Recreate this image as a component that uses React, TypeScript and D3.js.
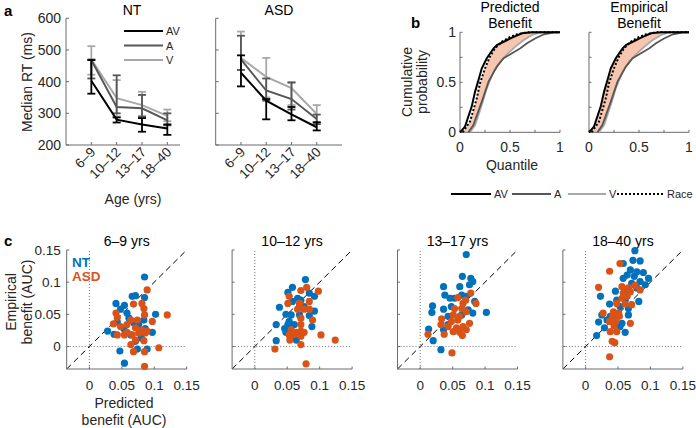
import React from 'react';
import * as d3 from 'd3';

const FONT = "'Liberation Sans', Arial, Helvetica, sans-serif";
const TXT = '#262626';
const AXC = '#6b6b6b';
const C_AV = '#000000';
const C_A = '#575757';
const C_V = '#a8a8a8';
const BLUE = '#0072BD';
const ORANGE = '#D95319';
const FILL = '#F7C6AE';

// ---------- Panel a data ----------
const AGE_GROUPS = ['6–9', '10–12', '13–17', '18–40'];
const RT_TICKS = [200, 300, 400, 500, 600];

const NT_AV_MEAN = [403, 280, 265, 252];
const NT_AV_LO = [362, 271, 242, 232];
const NT_AV_HI = [468, 287, 285, 265];
const NT_A_MEAN = [468, 320, 316, 278];
const NT_A_LO = [410, 300, 290, 262];
const NT_A_HI = [470, 420, 358, 300];
const NT_V_MEAN = [470, 348, 326, 292];
const NT_V_LO = [422, 290, 290, 275];
const NT_V_HI = [512, 405, 368, 312];

const ASD_AV_MEAN = [428, 340, 297, 256];
const ASD_AV_LO = [385, 281, 278, 246];
const ASD_AV_HI = [483, 345, 320, 272];
const ASD_A_MEAN = [470, 372, 345, 282];
const ASD_A_LO = [437, 340, 312, 266];
const ASD_A_HI = [545, 410, 398, 296];
const ASD_V_MEAN = [475, 415, 380, 298];
const ASD_V_LO = [437, 350, 326, 270];
const ASD_V_HI = [558, 475, 396, 326];

// ---------- Panel b data (quantile, cumulative probability) ----------
const CDF_AV = [[0, 0], [0.05, 0.057], [0.117, 0.257], [0.151, 0.407], [0.185, 0.523], [0.218, 0.64], [0.268, 0.74], [0.336, 0.84], [0.369, 0.873], [0.453, 0.913], [0.52, 0.947], [0.62, 0.99], [0.72, 1], [1, 1]];
const CDF_RACE = [[0.027, 0], [0.1, 0.107], [0.168, 0.34], [0.2, 0.49], [0.25, 0.64], [0.3, 0.757], [0.35, 0.84], [0.42, 0.907], [0.487, 0.947], [0.57, 0.98], [0.67, 1], [1, 1]];
const CDF_A = [[0.084, 0], [0.134, 0.073], [0.218, 0.307], [0.285, 0.507], [0.369, 0.657], [0.436, 0.74], [0.52, 0.79], [0.604, 0.84], [0.67, 0.89], [0.755, 0.94], [0.84, 0.98], [0.94, 1], [1, 1]];
const CDF_V = [[0.1, 0], [0.151, 0.073], [0.218, 0.273], [0.268, 0.44], [0.336, 0.607], [0.403, 0.707], [0.47, 0.78], [0.554, 0.857], [0.638, 0.923], [0.72, 0.973], [0.805, 1], [1, 1]];
const B_TICKS = [0, 0.25, 0.5, 0.75, 1];
const B_LABELS = [0, 0.5, 1];

// ---------- Panel c data (predicted, empirical) ----------
const C_TITLES = ['6–9 yrs', '10–12 yrs', '13–17 yrs', '18–40 yrs'];
const C_TICKS = [0, 0.05, 0.1, 0.15];

const C1_NT = [[0.085, 0.108], [0.066, 0.078], [0.071, 0.079], [0.085, 0.076], [0.041, 0.067], [0.054, 0.064], [0.048, 0.058], [0.058, 0.052], [0.102, 0.050], [0.043, 0.038], [0.028, 0.024], [0.038, 0.019], [0.061, 0.044], [0.076, 0.034], [0.086, 0.028], [0.097, 0.022], [0.047, -0.007], [0.054, -0.026], [0.074, -0.004], [0.089, -0.004], [0.071, 0.008], [0.080, 0.013], [0.064, 0.018], [0.053, 0.028], [0.084, 0.041], [0.069, 0.036]];
const C1_ASD = [[0.089, 0.088], [0.081, 0.067], [0.068, 0.066], [0.084, 0.059], [0.120, 0.049], [0.041, 0.052], [0.043, 0.045], [0.085, 0.049], [0.074, 0.041], [0.064, 0.041], [0.097, 0.039], [0.037, 0.035], [0.058, 0.034], [0.048, 0.031], [0.071, 0.029], [0.081, 0.026], [0.089, 0.024], [0.054, 0.018], [0.066, 0.018], [0.076, 0.021], [0.086, 0.021], [0.043, 0.018], [0.058, 0.022], [0.071, 0.010], [0.084, 0.009], [0.064, 0.003], [0.107, -0.002], [0.068, -0.008], [0.085, -0.008], [0.085, -0.031], [0.079, 0.023]];

const C2_NT = [[0.078, 0.104], [0.058, 0.092], [0.051, 0.084], [0.066, 0.075], [0.084, 0.083], [0.092, 0.078], [0.038, 0.061], [0.058, 0.070], [0.071, 0.072], [0.048, 0.050], [0.056, 0.049], [0.069, 0.049], [0.084, 0.048], [0.092, 0.055], [0.033, 0.034], [0.046, 0.028], [0.051, 0.034], [0.061, 0.034], [0.088, 0.031], [0.048, 0.022], [0.056, 0.018], [0.033, 0.009], [0.064, 0.010], [0.076, 0.062], [0.053, 0.039]];
const C2_ASD = [[0.080, 0.092], [0.098, 0.086], [0.071, 0.087], [0.053, 0.078], [0.084, 0.070], [0.051, 0.067], [0.069, 0.067], [0.066, 0.058], [0.076, 0.058], [0.084, 0.058], [0.071, 0.044], [0.089, 0.041], [0.071, 0.034], [0.056, 0.026], [0.064, 0.022], [0.071, 0.024], [0.076, 0.022], [0.053, 0.018], [0.061, 0.019], [0.071, 0.016], [0.054, 0.010], [0.102, 0.018], [0.124, 0.010], [0.031, -0.004], [0.071, 0.003], [0.079, -0.027]];

const C3_NT = [[0.071, 0.143], [0.065, 0.109], [0.078, 0.106], [0.081, 0.101], [0.036, 0.093], [0.061, 0.093], [0.076, 0.096], [0.038, 0.080], [0.064, 0.080], [0.046, 0.075], [0.053, 0.075], [0.071, 0.078], [0.084, 0.070], [0.019, 0.063], [0.018, 0.053], [0.036, 0.058], [0.048, 0.062], [0.102, 0.053], [0.081, 0.052], [0.064, 0.049], [0.043, 0.047], [0.013, 0.027], [0.036, 0.026], [0.020, 0.009], [0.032, -0.005], [0.043, 0.034], [0.074, 0.057]];
const C3_ASD = [[0.078, 0.083], [0.058, 0.076], [0.070, 0.072], [0.066, 0.067], [0.086, 0.067], [0.053, 0.059], [0.064, 0.059], [0.071, 0.054], [0.051, 0.049], [0.061, 0.047], [0.033, 0.043], [0.032, 0.034], [0.048, 0.039], [0.058, 0.041], [0.076, 0.036], [0.056, 0.029], [0.066, 0.031], [0.051, 0.023], [0.061, 0.022], [0.071, 0.026], [0.037, 0.019], [0.012, 0.019], [0.065, 0.017], [0.049, -0.010], [0.043, 0.031]];

const C4_NT = [[0.076, 0.149], [0.073, 0.134], [0.084, 0.133], [0.069, 0.119], [0.079, 0.116], [0.089, 0.115], [0.064, 0.111], [0.075, 0.109], [0.097, 0.106], [0.058, 0.106], [0.084, 0.101], [0.071, 0.098], [0.092, 0.096], [0.023, 0.078], [0.046, 0.086], [0.061, 0.085], [0.079, 0.091], [0.048, 0.072], [0.061, 0.072], [0.082, 0.070], [0.037, 0.066], [0.053, 0.062], [0.066, 0.059], [0.025, 0.049], [0.038, 0.047], [0.051, 0.049], [0.066, 0.049], [0.020, 0.038], [0.033, 0.041], [0.046, 0.041], [0.056, 0.036], [0.029, 0.029], [0.053, 0.031], [0.017, 0.017], [0.061, 0.022], [0.058, 0.129]];
const C4_ASD = [[0.053, 0.129], [0.037, 0.117], [0.020, 0.092], [0.056, 0.093], [0.066, 0.091], [0.076, 0.095], [0.084, 0.088], [0.058, 0.083], [0.069, 0.085], [0.056, 0.075], [0.064, 0.078], [0.048, 0.067], [0.061, 0.066], [0.071, 0.065], [0.027, 0.052], [0.043, 0.054], [0.051, 0.052], [0.042, 0.047], [0.052, 0.047], [0.037, 0.039], [0.047, 0.040], [0.044, 0.032], [0.069, 0.036], [0.038, 0.023], [0.048, 0.023], [0.041, 0.008], [0.045, 0.006], [0.037, -0.016]];

const C_NT = [C1_NT, C2_NT, C3_NT, C4_NT];
const C_ASD = [C1_ASD, C2_ASD, C3_ASD, C4_ASD];

// ---------- Panel a ----------
type Series = { mean: number[]; lo: number[]; hi: number[]; color: string; w: number };

function RTPanel({ x0, x1, xMax, title, titleX, series, showLabels, legend }: any) {
  const x = d3.scaleLinear().domain([0, xMax]).range([x0, x1]);
  const y = d3.scaleLinear().domain([200, 600]).range([145, 18.3]);
  const line = d3.line<number>().x((_, i) => x(i + 1)).y((d) => y(d));
  return (
    <g>
      <text x={titleX} y={15} textAnchor="middle" fontSize={14} fill="#000">{title}</text>
      <line x1={x0} x2={x0} y1={y(200)} y2={y(600)} stroke={AXC} />
      <line x1={x0} x2={x1} y1={y(200)} y2={y(200)} stroke={AXC} />
      {RT_TICKS.map((t) => (
        <g key={t}>
          <line x1={x0} x2={x0 + 3} y1={y(t)} y2={y(t)} stroke={AXC} />
          {showLabels && (
            <text x={x0 - 5} y={y(t) + 5} textAnchor="end" fontSize={14} fill={TXT}>{t}</text>
          )}
        </g>
      ))}
      {AGE_GROUPS.map((g, i) => (
        <g key={g}>
          <line x1={x(i + 1)} x2={x(i + 1)} y1={y(200)} y2={y(200) - 3} stroke={AXC} />
          <text transform={`translate(${x(i + 1) + 5},${y(200) + 8}) rotate(-45)`} textAnchor="end" fontSize={13.5} fill={TXT}>{g}</text>
        </g>
      ))}
      {series.map((s: Series, k: number) => (
        <g key={k}>
          {s.mean.map((_, i) => (
            <g key={i} stroke={s.color} strokeWidth={1.8}>
              <line x1={x(i + 1)} x2={x(i + 1)} y1={y(s.lo[i])} y2={y(s.hi[i])} />
              <line x1={x(i + 1) - 4} x2={x(i + 1) + 4} y1={y(s.lo[i])} y2={y(s.lo[i])} />
              <line x1={x(i + 1) - 4} x2={x(i + 1) + 4} y1={y(s.hi[i])} y2={y(s.hi[i])} />
            </g>
          ))}
          <path d={line(s.mean) || ''} fill="none" stroke={s.color} strokeWidth={s.w} />
        </g>
      ))}
      {legend && legend.map((l: any, i: number) => (
        <g key={l.label}>
          <line x1={124} x2={163} y1={31 + i * 14.5} y2={31 + i * 14.5} stroke={l.color} strokeWidth={2} />
          <text x={166} y={35 + i * 14.5} fontSize={11} fill={TXT}>{l.label}</text>
        </g>
      ))}
    </g>
  );
}

// ---------- Panel b ----------
function invert(curve: number[][]) {
  // x as a function of p, up to the first point where p reaches 1
  const pts: number[][] = [];
  for (const c of curve) {
    pts.push(c);
    if (c[1] >= 1) break;
  }
  return d3.scaleLinear().domain(pts.map((d) => d[1])).range(pts.map((d) => d[0])).clamp(true);
}

function CDFPanel({ x0, title, inner, showY, showXLabel }: any) {
  const x = d3.scaleLinear().domain([0, 1]).range([x0, x0 + 100]);
  const y = d3.scaleLinear().domain([0, 1]).range([132.3, 32.3]);
  const line = d3.line<number[]>().x((d) => x(d[0])).y((d) => y(d[1]));
  const fInner = invert(inner);
  const fA = invert(CDF_A);
  const fV = invert(CDF_V);
  const grid = d3.range(0, 1.0001, 0.01);
  const area = d3
    .area<number>()
    .y((p) => y(p))
    .x0((p) => x(fInner(p)))
    .x1((p) => x(Math.max(fInner(p), Math.min(fA(p), fV(p)))));
  return (
    <g>
      <text x={x0 + 50} y={12} textAnchor="middle" fontSize={14} fill="#000">{title[0]}</text>
      <text x={x0 + 50} y={27.5} textAnchor="middle" fontSize={14} fill="#000">{title[1]}</text>
      <path d={area(grid) || ''} fill={FILL} stroke="none" />
      <line x1={x0} x2={x0} y1={y(0)} y2={y(1)} stroke={AXC} />
      <line x1={x0} x2={x0 + 100} y1={y(0)} y2={y(0)} stroke={AXC} />
      {B_TICKS.map((t) => (
        <g key={t}>
          <line x1={x0} x2={x0 + 2.5} y1={y(t)} y2={y(t)} stroke={AXC} />
          <line x1={x(t)} x2={x(t)} y1={y(0)} y2={y(0) - 2.5} stroke={AXC} />
        </g>
      ))}
      {B_LABELS.map((t) => (
        <g key={t}>
          <text x={x(t)} y={y(0) + 20} textAnchor="middle" fontSize={14} fill={TXT}>{t}</text>
          {showY && (
            <text x={x0 - 4} y={y(t) + 5} textAnchor="end" fontSize={14} fill={TXT}>{t}</text>
          )}
        </g>
      ))}
      <path d={line(CDF_V) || ''} fill="none" stroke={C_V} strokeWidth={1.8} />
      <path d={line(CDF_A) || ''} fill="none" stroke={C_A} strokeWidth={1.8} />
      <path d={line(CDF_RACE) || ''} fill="none" stroke="#000" strokeWidth={2} strokeDasharray="2,2" />
      <path d={line(CDF_AV) || ''} fill="none" stroke={C_AV} strokeWidth={2} />
      {showXLabel && (
        <text x={x0 + 52} y={170} textAnchor="middle" fontSize={14} fill={TXT}>Quantile</text>
      )}
    </g>
  );
}

// ---------- Panel c ----------
function ScatterPanel({ idx }: { idx: number }) {
  const x0 = 66.7 + idx * 165.4;
  const x = d3.scaleLinear().domain([-0.035, 0.15]).range([x0, x0 + 120]);
  const y = d3.scaleLinear().domain([-0.035, 0.15]).range([369, 250]);
  const fmt = (t: number) => (t === 0 ? '0' : String(t));
  return (
    <g>
      <text x={x0 + 60} y={246} textAnchor="middle" fontSize={14} fill="#000">{C_TITLES[idx]}</text>
      <line x1={x(0)} x2={x(0)} y1={y(-0.035)} y2={y(0.15)} stroke="#777" strokeDasharray="1,2" />
      <line x1={x(-0.035)} x2={x(0.15)} y1={y(0)} y2={y(0)} stroke="#777" strokeDasharray="1,2" />
      <line x1={x(-0.035)} x2={x(0.15)} y1={y(-0.035)} y2={y(0.15)} stroke="#000" strokeDasharray="6,4" strokeWidth={1} />
      <line x1={x0} x2={x0} y1={y(-0.035)} y2={y(0.15)} stroke={AXC} />
      <line x1={x0} x2={x0 + 120} y1={y(-0.035)} y2={y(-0.035)} stroke={AXC} />
      {C_TICKS.map((t) => (
        <g key={t}>
          <line x1={x0} x2={x0 + 2.5} y1={y(t)} y2={y(t)} stroke={AXC} />
          <line x1={x(t)} x2={x(t)} y1={y(-0.035)} y2={y(-0.035) - 2.5} stroke={AXC} />
          <text x={x(t)} y={390} textAnchor="middle" fontSize={13.5} fill={TXT}>{fmt(t)}</text>
          {idx === 0 && (
            <text x={x0 - 6} y={y(t) + 5} textAnchor="end" fontSize={13.5} fill={TXT}>{fmt(t)}</text>
          )}
        </g>
      ))}
      {C_NT[idx].map((d, i) => (
        <circle key={'n' + i} cx={x(d[0])} cy={y(d[1])} r={3.6} fill={BLUE} />
      ))}
      {C_ASD[idx].map((d, i) => (
        <circle key={'a' + i} cx={x(d[0])} cy={y(d[1])} r={3.6} fill={ORANGE} />
      ))}
    </g>
  );
}

export default function App() {
  const ntSeries: Series[] = [
    { mean: NT_V_MEAN, lo: NT_V_LO, hi: NT_V_HI, color: C_V, w: 2 },
    { mean: NT_A_MEAN, lo: NT_A_LO, hi: NT_A_HI, color: C_A, w: 2 },
    { mean: NT_AV_MEAN, lo: NT_AV_LO, hi: NT_AV_HI, color: C_AV, w: 2 },
  ];
  const asdSeries: Series[] = [
    { mean: ASD_V_MEAN, lo: ASD_V_LO, hi: ASD_V_HI, color: C_V, w: 2 },
    { mean: ASD_A_MEAN, lo: ASD_A_LO, hi: ASD_A_HI, color: C_A, w: 2 },
    { mean: ASD_AV_MEAN, lo: ASD_AV_LO, hi: ASD_AV_HI, color: C_AV, w: 2 },
  ];
  const legendA = [
    { label: 'AV', color: C_AV },
    { label: 'A', color: C_A },
    { label: 'V', color: C_V },
  ];
  return (
    <svg width={696} height={428} style={{ position: 'absolute', left: 0, top: 0, background: '#fff' }} fontFamily={FONT}>
      <rect width={696} height={428} fill="#fff" />
      {/* panel a */}
      <text x={4} y={16} fontSize={15} fontWeight="bold" fill="#000">a</text>
      <text transform="translate(32,82) rotate(-90)" textAnchor="middle" fontSize={14} fill={TXT}>Median RT (ms)</text>
      <RTPanel x0={66} x1={180} xMax={4.5} title="NT" titleX={132} series={ntSeries} showLabels legend={legendA} />
      <RTPanel x0={215.7} x1={342} xMax={5} title="ASD" titleX={279} series={asdSeries} showLabels={false} />
      <text x={133} y={204} textAnchor="middle" fontSize={14} fill={TXT}>Age (yrs)</text>

      {/* panel b */}
      <text x={411} y={28} fontSize={15} fontWeight="bold" fill="#000">b</text>
      <text transform="translate(412,82) rotate(-90)" textAnchor="middle" fontSize={14} fill={TXT}>Cumulative</text>
      <text transform="translate(427,82) rotate(-90)" textAnchor="middle" fontSize={14} fill={TXT}>probability</text>
      <CDFPanel x0={460} title={['Predicted', 'Benefit']} inner={CDF_RACE} showY showXLabel />
      <CDFPanel x0={589} title={['Empirical', 'Benefit']} inner={CDF_AV} showY={false} showXLabel={false} />
      <g>
        <line x1={451} x2={491} y1={194} y2={194} stroke={C_AV} strokeWidth={2} />
        <text x={494} y={198} fontSize={11} fill={TXT}>AV</text>
        <line x1={512} x2={551} y1={194} y2={194} stroke={C_A} strokeWidth={2} />
        <text x={554} y={198} fontSize={11} fill={TXT}>A</text>
        <line x1={568} x2={606} y1={194} y2={194} stroke={C_V} strokeWidth={2} />
        <text x={609} y={198} fontSize={11} fill={TXT}>V</text>
        <line x1={617} x2={663} y1={194} y2={194} stroke="#000" strokeWidth={2} strokeDasharray="2,2" />
        <text x={667} y={198} fontSize={11} fill={TXT}>Race</text>
      </g>

      {/* panel c */}
      <text x={4} y={246} fontSize={15} fontWeight="bold" fill="#000">c</text>
      <text transform="translate(16,302) rotate(-90)" textAnchor="middle" fontSize={14} fill={TXT}>Empirical</text>
      <text transform="translate(32,302) rotate(-90)" textAnchor="middle" fontSize={14} fill={TXT}>benefit (AUC)</text>
      {[0, 1, 2, 3].map((i) => (
        <ScatterPanel key={i} idx={i} />
      ))}
      <text x={72} y={267} fontSize={13.5} fontWeight="bold" fill={BLUE}>NT</text>
      <text x={72} y={281} fontSize={13.5} fontWeight="bold" fill={ORANGE}>ASD</text>
      <text x={124} y={408} textAnchor="middle" fontSize={14} fill={TXT}>Predicted</text>
      <text x={124} y={425} textAnchor="middle" fontSize={14} fill={TXT}>benefit (AUC)</text>
    </svg>
  );
}
